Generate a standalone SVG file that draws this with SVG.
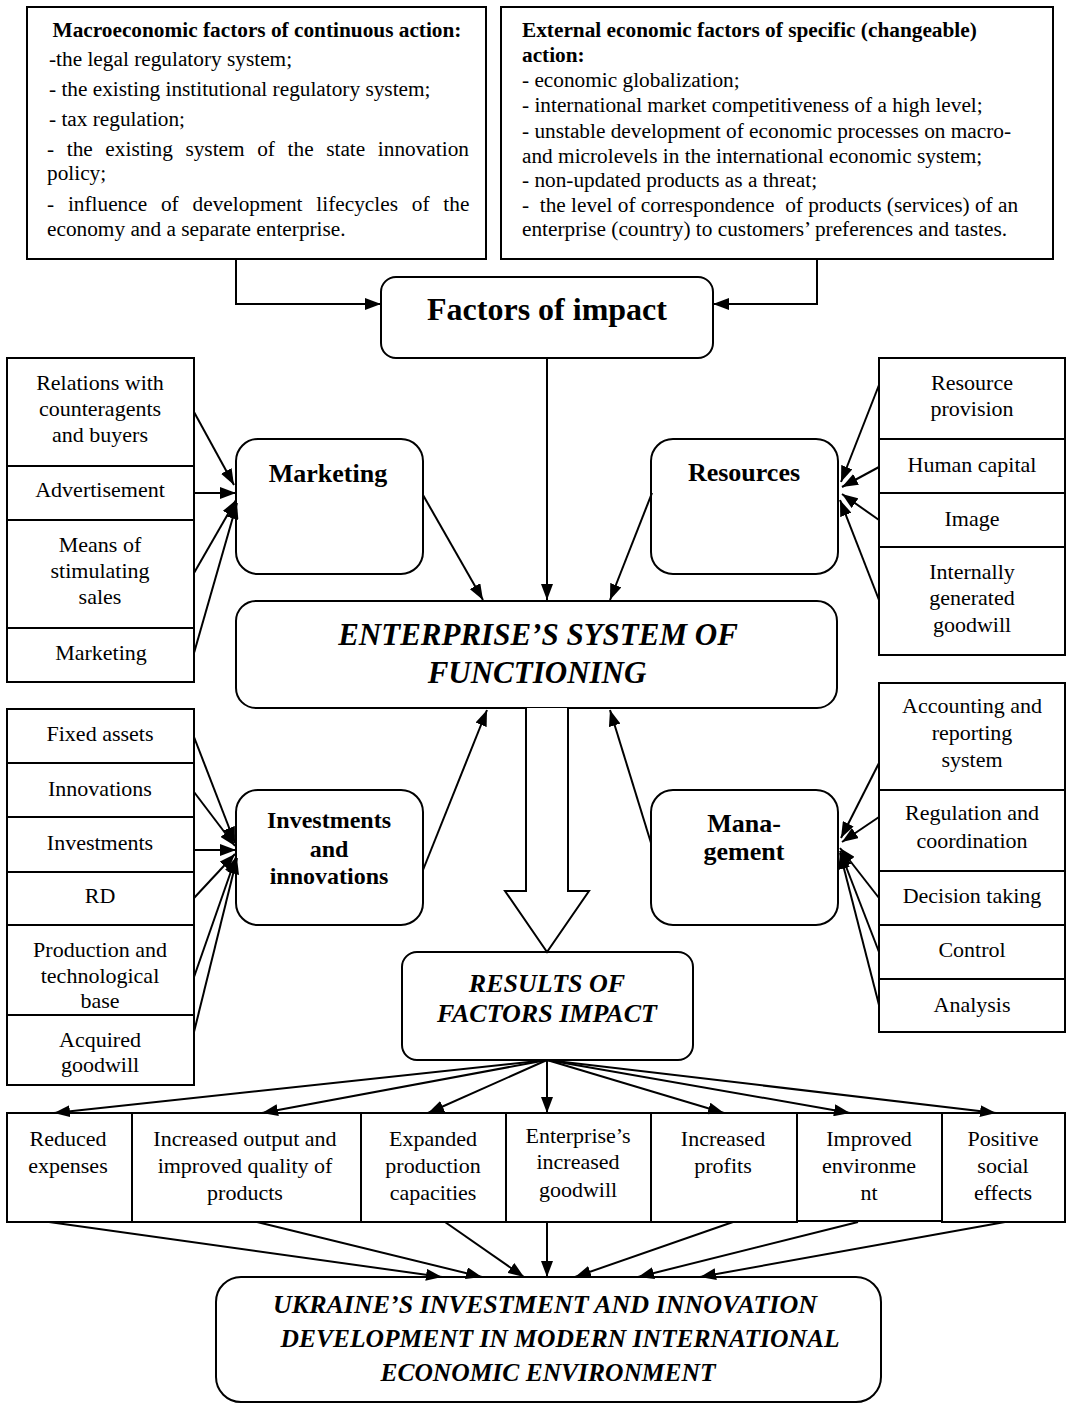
<svg xmlns="http://www.w3.org/2000/svg" width="1066" height="1407" viewBox="0 0 1066 1407">
<style>
.box{fill:#fff;stroke:#000;stroke-width:2}
.rb{fill:#fff;stroke:#000;stroke-width:2}
.ln{fill:none;stroke:#000;stroke-width:2;marker-end:url(#ah)}
.pl{fill:none;stroke:#000;stroke-width:2}
text{font-family:"Liberation Serif","Times New Roman",serif;fill:#000}
.top{font-size:21.3px}
.topb{font-size:21.3px;font-weight:bold}
.s{font-size:22px;text-anchor:middle}
.hb{font-weight:bold;text-anchor:middle}
.bi{font-weight:bold;font-style:italic;text-anchor:middle}
</style>
<defs>
<marker id="ah" viewBox="0 0 16 12" refX="16" refY="6" markerWidth="16" markerHeight="12" markerUnits="userSpaceOnUse" orient="auto">
<path d="M0,0 L16,6 L0,12 z" fill="#000"/>
</marker>
</defs>

<g id="macro">
<rect class="box" x="27" y="7" width="459" height="252"/>
<text class="topb" x="257" y="37" text-anchor="middle">Macroeconomic factors of continuous action:</text>
<text class="top" x="49" y="66">-the legal regulatory system;</text>
<text class="top" x="49" y="96">- the existing institutional regulatory system;</text>
<text class="top" x="49" y="126">- tax regulation;</text>
<text class="top" x="47" y="156" word-spacing="7.3">- the existing system of the state innovation</text>
<text class="top" x="47" y="180">policy;</text>
<text class="top" x="47" y="211" word-spacing="8.5">- influence of development lifecycles of the</text>
<text class="top" x="47" y="236">economy and a separate enterprise.</text>
</g>

<g id="external">
<rect class="box" x="501" y="7" width="552" height="252"/>
<text class="topb" x="522" y="37">External economic factors of specific (changeable)</text>
<text class="topb" x="522" y="62">action:</text>
<text class="top" x="522" y="87">- economic globalization;</text>
<text class="top" x="522" y="112">- international market competitiveness of a high level;</text>
<text class="top" x="522" y="138">- unstable development of economic processes on macro-</text>
<text class="top" x="522" y="163">and microlevels in the international economic system;</text>
<text class="top" x="522" y="187">- non-updated products as a threat;</text>
<text class="top" x="522" y="212" xml:space="preserve">-  the level of correspondence  of products (services) of an</text>
<text class="top" x="522" y="236">enterprise (country) to customers’ preferences and tastes.</text>
</g>

<g id="factors">
<rect class="rb" x="381" y="277" width="332" height="81" rx="15"/>
<text class="hb" x="547" y="320" font-size="32">Factors of impact</text>
</g>

<g id="enterprise">
<rect class="rb" x="236" y="601" width="601" height="107" rx="20"/>
<text class="bi" x="538" y="645" font-size="31">ENTERPRISE’S SYSTEM OF</text>
<text class="bi" x="537" y="683" font-size="31">FUNCTIONING</text>
</g>

<g id="marketing">
<rect class="rb" x="236" y="439" width="187" height="135" rx="22"/>
<text class="hb" x="328" y="482" font-size="26">Marketing</text>
</g>

<g id="resources">
<rect class="rb" x="651" y="439" width="187" height="135" rx="22"/>
<text class="hb" x="744" y="481" font-size="26">Resources</text>
</g>

<g id="investments">
<rect class="rb" x="236" y="790" width="187" height="135" rx="22"/>
<text class="hb" x="329" y="828" font-size="24">Investments</text>
<text class="hb" x="329" y="857" font-size="24">and</text>
<text class="hb" x="329" y="884" font-size="24">innovations</text>
</g>

<g id="management">
<rect class="rb" x="651" y="790" width="187" height="135" rx="22"/>
<text class="hb" x="744" y="832" font-size="26">Mana-</text>
<text class="hb" x="744" y="860" font-size="26">gement</text>
</g>

<g id="marketing-items">
<rect class="box" x="7" y="358" width="187" height="108"/>
<text class="s" x="100" y="390">Relations with</text>
<text class="s" x="100" y="416">counteragents</text>
<text class="s" x="100" y="442">and buyers</text>
<rect class="box" x="7" y="466" width="187" height="54"/>
<text class="s" x="100" y="497">Advertisement</text>
<rect class="box" x="7" y="520" width="187" height="108"/>
<text class="s" x="100" y="552">Means of</text>
<text class="s" x="100" y="578">stimulating</text>
<text class="s" x="100" y="604">sales</text>
<rect class="box" x="7" y="628" width="187" height="54"/>
<text class="s" x="101" y="660">Marketing</text>
</g>

<g id="resource-items">
<rect class="box" x="879" y="358" width="186" height="81"/>
<text class="s" x="972" y="390">Resource</text>
<text class="s" x="972" y="416">provision</text>
<rect class="box" x="879" y="439" width="186" height="54"/>
<text class="s" x="972" y="472">Human capital</text>
<rect class="box" x="879" y="493" width="186" height="54"/>
<text class="s" x="972" y="526">Image</text>
<rect class="box" x="879" y="547" width="186" height="108"/>
<text class="s" x="972" y="579">Internally</text>
<text class="s" x="972" y="605">generated</text>
<text class="s" x="972" y="632">goodwill</text>
</g>

<g id="investment-items">
<rect class="box" x="7" y="709" width="187" height="54"/>
<text class="s" x="100" y="741">Fixed assets</text>
<rect class="box" x="7" y="763" width="187" height="54"/>
<text class="s" x="100" y="796">Innovations</text>
<rect class="box" x="7" y="817" width="187" height="55"/>
<text class="s" x="100" y="850">Investments</text>
<rect class="box" x="7" y="872" width="187" height="53"/>
<text class="s" x="100" y="903">RD</text>
<rect class="box" x="7" y="925" width="187" height="90"/>
<text class="s" x="100" y="957">Production and</text>
<text class="s" x="100" y="983">technological</text>
<text class="s" x="100" y="1008">base</text>
<rect class="box" x="7" y="1015" width="187" height="70"/>
<text class="s" x="100" y="1047">Acquired</text>
<text class="s" x="100" y="1072">goodwill</text>
</g>

<g id="management-items">
<rect class="box" x="879" y="683" width="186" height="107"/>
<text class="s" x="972" y="713">Accounting and</text>
<text class="s" x="972" y="740">reporting</text>
<text class="s" x="972" y="767">system</text>
<rect class="box" x="879" y="790" width="186" height="81"/>
<text class="s" x="972" y="820">Regulation and</text>
<text class="s" x="972" y="848">coordination</text>
<rect class="box" x="879" y="871" width="186" height="54"/>
<text class="s" x="972" y="903">Decision taking</text>
<rect class="box" x="879" y="925" width="186" height="54"/>
<text class="s" x="972" y="957">Control</text>
<rect class="box" x="879" y="979" width="186" height="53"/>
<text class="s" x="972" y="1012">Analysis</text>
</g>

<g id="results">
<rect class="rb" x="402" y="952" width="291" height="108" rx="15"/>
<text class="bi" x="547" y="992" font-size="26">RESULTS OF</text>
<text class="bi" x="547" y="1022" font-size="26">FACTORS IMPACT</text>
</g>

<g id="effects">
<rect class="box" x="7" y="1113" width="125" height="109"/>
<text class="s" x="68" y="1146">Reduced</text>
<text class="s" x="68" y="1173">expenses</text>
<rect class="box" x="132" y="1113" width="229" height="109"/>
<text class="s" x="245" y="1146">Increased output and</text>
<text class="s" x="245" y="1173">improved quality of</text>
<text class="s" x="245" y="1200">products</text>
<rect class="box" x="361" y="1113" width="145" height="109"/>
<text class="s" x="433" y="1146">Expanded</text>
<text class="s" x="433" y="1173">production</text>
<text class="s" x="433" y="1200">capacities</text>
<rect class="box" x="506" y="1113" width="145" height="109"/>
<text class="s" x="578" y="1143">Enterprise’s</text>
<text class="s" x="578" y="1169">increased</text>
<text class="s" x="578" y="1197">goodwill</text>
<rect class="box" x="651" y="1113" width="146" height="109"/>
<text class="s" x="723" y="1146">Increased</text>
<text class="s" x="723" y="1173">profits</text>
<rect class="box" x="797" y="1113" width="145" height="108"/>
<text class="s" x="869" y="1146">Improved</text>
<text class="s" x="869" y="1173">environme</text>
<text class="s" x="869" y="1200">nt</text>
<rect class="box" x="942" y="1113" width="123" height="109"/>
<text class="s" x="1003" y="1146">Positive</text>
<text class="s" x="1003" y="1173">social</text>
<text class="s" x="1003" y="1200">effects</text>
</g>

<g id="ukraine">
<rect class="rb" x="216" y="1277" width="665" height="125" rx="25"/>
<text class="bi" x="545" y="1313" font-size="26">UKRAINE’S INVESTMENT AND INNOVATION</text>
<text class="bi" x="560" y="1347" font-size="25.5">DEVELOPMENT IN MODERN INTERNATIONAL</text>
<text class="bi" x="548" y="1381" font-size="25.5">ECONOMIC ENVIRONMENT</text>
</g>

<g id="connectors">
<polyline class="ln" points="236,259 236,304 381,304"/>
<polyline class="ln" points="817,259 817,304 713,304"/>
<line class="ln" x1="547" y1="358" x2="547" y2="600"/>
<line class="ln" x1="423" y1="495" x2="483" y2="600"/>
<line class="ln" x1="652" y1="493" x2="610" y2="600"/>
<line class="ln" x1="423" y1="870" x2="487" y2="710"/>
<line class="ln" x1="651" y1="843" x2="610" y2="710"/>

<line class="ln" x1="194" y1="412" x2="234" y2="485"/>
<line class="ln" x1="194" y1="493" x2="236" y2="493"/>
<line class="ln" x1="194" y1="573" x2="236" y2="500"/>
<line class="ln" x1="194" y1="653" x2="237" y2="503"/>

<line class="ln" x1="879" y1="385" x2="841" y2="482"/>
<line class="ln" x1="879" y1="467" x2="842" y2="487"/>
<line class="ln" x1="879" y1="520" x2="842" y2="494"/>
<line class="ln" x1="879" y1="600" x2="840" y2="500"/>

<line class="ln" x1="194" y1="737" x2="235" y2="843"/>
<line class="ln" x1="194" y1="792" x2="235" y2="846"/>
<line class="ln" x1="194" y1="850" x2="236" y2="850"/>
<line class="ln" x1="194" y1="898" x2="235" y2="854"/>
<line class="ln" x1="194" y1="977" x2="236" y2="857"/>
<line class="ln" x1="194" y1="1032" x2="237" y2="858"/>

<line class="ln" x1="879" y1="763" x2="841" y2="838"/>
<line class="ln" x1="879" y1="817" x2="842" y2="842"/>
<line class="ln" x1="879" y1="898" x2="840" y2="848"/>
<line class="ln" x1="879" y1="952" x2="840" y2="851"/>
<line class="ln" x1="879" y1="1005" x2="840" y2="853"/>

<polygon points="526,708 526,891 505,891 547,952 589,891 568,891 568,708" fill="#fff" stroke="none"/>
<polyline class="pl" points="526,708 526,891 505,891 547,952 589,891 568,891 568,708"/>

<line class="ln" x1="547" y1="1060" x2="54" y2="1113"/>
<line class="ln" x1="547" y1="1060" x2="262" y2="1113"/>
<line class="ln" x1="547" y1="1060" x2="428" y2="1113"/>
<line class="ln" x1="547" y1="1060" x2="547" y2="1113"/>
<line class="ln" x1="547" y1="1060" x2="724" y2="1113"/>
<line class="ln" x1="547" y1="1060" x2="850" y2="1113"/>
<line class="ln" x1="547" y1="1060" x2="996" y2="1113"/>

<line class="ln" x1="49" y1="1222" x2="442" y2="1277"/>
<line class="ln" x1="257" y1="1222" x2="482" y2="1277"/>
<line class="ln" x1="445" y1="1222" x2="524" y2="1277"/>
<line class="ln" x1="547" y1="1222" x2="547" y2="1277"/>
<line class="ln" x1="733" y1="1222" x2="575" y2="1277"/>
<line class="ln" x1="858" y1="1222" x2="638" y2="1277"/>
<line class="ln" x1="1005" y1="1222" x2="700" y2="1277"/>
</g>
</svg>
